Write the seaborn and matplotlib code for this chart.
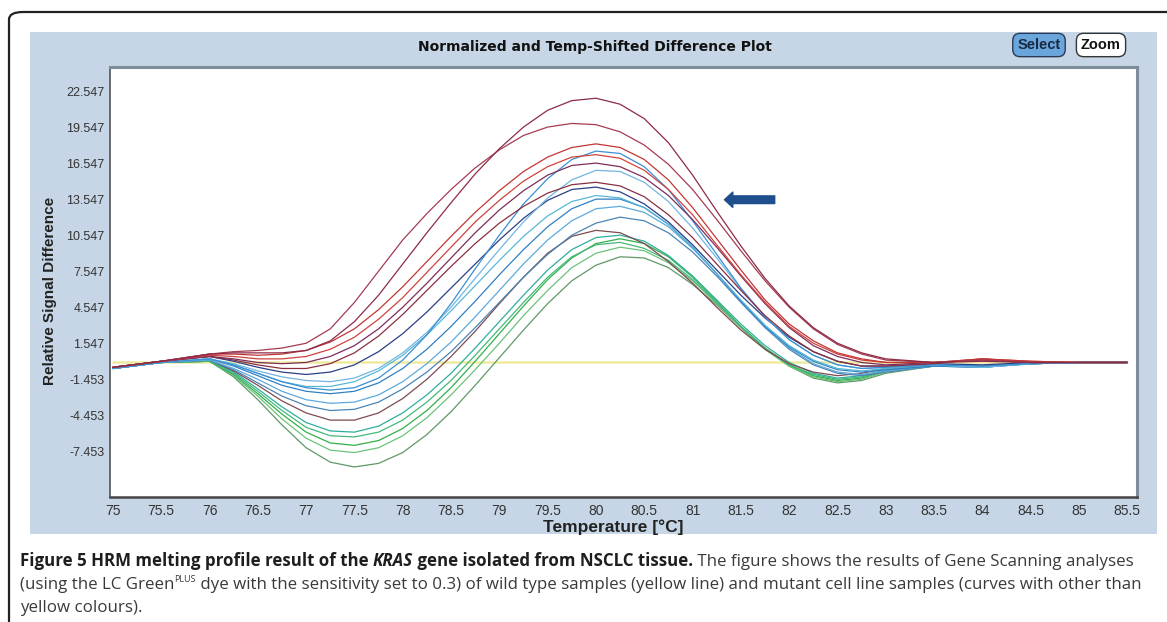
import numpy as np
import pandas as pd
import seaborn as sns
import matplotlib.pyplot as plt
from matplotlib.patches import Rectangle, FancyBboxPatch
from matplotlib.ticker import FixedLocator, AutoMinorLocator

sns.set_style('white')
plt.rcParams['font.family'] = ['Liberation Sans', 'DejaVu Sans']

# temperature grid (deg C)
TEMPS = [75, 75.5, 76, 76.25, 76.5, 76.75, 77, 77.25, 77.5, 77.75, 78, 78.25, 78.5, 78.75,
         79, 79.25, 79.5, 79.75, 80, 80.25, 80.5, 80.75, 81, 81.25, 81.5, 81.75, 82, 82.25,
         82.5, 82.75, 83, 83.5, 84, 84.5, 85, 85.5]

# wild type reference (yellow line)
wild_type = [0.0] * len(TEMPS)

# mutant curves
maroon_22 = [-0.4, 0.1, 0.7, 0.8, 0.8, 0.8, 1.0, 1.8, 3.4, 5.6, 8.2, 10.8, 13.3, 15.7,
             17.8, 19.6, 21.0, 21.8, 22.0, 21.5, 20.3, 18.3, 15.6, 12.6, 9.7, 7.0, 4.7, 2.9,
             1.6, 0.8, 0.3, 0.0, 0.1, 0.0, 0.0, 0.0]
maroon_20 = [-0.4, 0.1, 0.7, 0.9, 1.0, 1.2, 1.6, 2.8, 5.0, 7.6, 10.2, 12.4, 14.4, 16.2,
             17.7, 18.9, 19.6, 19.9, 19.8, 19.2, 18.1, 16.5, 14.4, 11.9, 9.3, 6.8, 4.6, 2.8,
             1.5, 0.7, 0.2, 0.0, 0.2, 0.0, 0.0, 0.0]
red_18 = [-0.4, 0.1, 0.7, 0.7, 0.6, 0.7, 1.0, 1.7, 2.8, 4.4, 6.3, 8.4, 10.5, 12.5,
          14.3, 15.9, 17.1, 17.9, 18.2, 17.9, 16.9, 15.2, 12.9, 10.3, 7.7, 5.2, 3.2, 1.8,
          0.8, 0.3, 0.0, 0.0, 0.3, 0.1, 0.0, 0.0]
red_17 = [-0.4, 0.1, 0.6, 0.5, 0.3, 0.3, 0.5, 1.1, 2.1, 3.6, 5.4, 7.5, 9.6, 11.7,
          13.5, 15.1, 16.3, 17.1, 17.3, 17.0, 16.0, 14.4, 12.3, 9.8, 7.3, 5.0, 3.0, 1.6,
          0.7, 0.2, 0.0, 0.0, 0.3, 0.1, 0.0, 0.0]
plum_16 = [-0.4, 0.1, 0.5, 0.3, 0.0, -0.1, 0.0, 0.5, 1.4, 2.8, 4.6, 6.6, 8.7, 10.8,
           12.7, 14.3, 15.6, 16.4, 16.6, 16.3, 15.4, 13.9, 11.9, 9.6, 7.2, 4.9, 2.9, 1.4,
           0.5, 0.0, -0.2, 0.0, 0.2, 0.0, 0.0, 0.0]
darkred_15 = [-0.4, 0.1, 0.5, 0.2, -0.2, -0.5, -0.5, -0.1, 0.8, 2.2, 4.0, 6.0, 8.0, 9.9,
              11.6, 13.0, 14.1, 14.8, 15.0, 14.7, 13.8, 12.3, 10.4, 8.2, 6.0, 3.9, 2.2, 0.9,
              0.1, -0.3, -0.3, -0.1, 0.3, 0.0, 0.0, 0.0]
blue_17 = [-0.5, 0.0, 0.3, -0.2, -0.9, -1.6, -2.1, -2.3, -2.1, -1.3, 0.2, 2.3, 4.9, 7.8,
           10.6, 13.2, 15.3, 16.9, 17.6, 17.4, 16.3, 14.4, 11.8, 9.0, 6.2, 3.8, 1.9, 0.6,
           -0.2, -0.5, -0.4, -0.2, -0.3, -0.1, 0.0, 0.0]
skyblue_16 = [-0.5, 0.0, 0.3, -0.1, -0.7, -1.2, -1.5, -1.6, -1.3, -0.5, 0.8, 2.5, 4.6, 7.0,
              9.4, 11.7, 13.7, 15.2, 16.0, 15.9, 15.0, 13.4, 11.2, 8.7, 6.1, 3.8, 1.9, 0.6,
              -0.2, -0.5, -0.4, -0.2, -0.4, -0.1, 0.0, 0.0]
navy_14 = [-0.4, 0.1, 0.5, 0.1, -0.4, -0.8, -1.0, -0.8, -0.2, 0.9, 2.4, 4.2, 6.2, 8.2,
           10.2, 12.0, 13.5, 14.4, 14.6, 14.2, 13.2, 11.7, 9.8, 7.7, 5.6, 3.7, 2.1, 0.9,
           0.1, -0.3, -0.3, -0.1, -0.2, 0.0, 0.0, 0.0]
cyan_14 = [-0.5, 0.0, 0.3, -0.2, -0.9, -1.6, -2.0, -2.0, -1.6, -0.7, 0.6, 2.3, 4.3, 6.4,
           8.5, 10.5, 12.2, 13.4, 13.9, 13.7, 12.9, 11.5, 9.6, 7.4, 5.2, 3.1, 1.4, 0.2,
           -0.5, -0.7, -0.5, -0.2, -0.4, -0.1, 0.0, 0.0]
blue_13 = [-0.5, 0.0, 0.3, -0.3, -1.1, -1.9, -2.4, -2.6, -2.4, -1.7, -0.5, 1.1, 3.0, 5.1,
           7.3, 9.4, 11.3, 12.8, 13.6, 13.6, 12.9, 11.5, 9.6, 7.4, 5.1, 3.0, 1.3, 0.1,
           -0.6, -0.8, -0.6, -0.3, -0.4, -0.1, 0.0, 0.0]
lightblue_13 = [-0.5, 0.0, 0.2, -0.5, -1.4, -2.4, -3.1, -3.4, -3.3, -2.7, -1.6, -0.1, 1.7, 3.8,
                6.0, 8.2, 10.2, 11.8, 12.8, 13.0, 12.5, 11.3, 9.5, 7.4, 5.1, 3.0, 1.2, -0.1,
                -0.8, -1.0, -0.7, -0.3, -0.4, -0.1, 0.0, 0.0]
steel_12 = [-0.5, 0.0, 0.2, -0.6, -1.7, -2.8, -3.6, -4.0, -3.9, -3.3, -2.2, -0.8, 0.9, 2.9,
            5.0, 7.1, 9.0, 10.6, 11.6, 12.1, 11.8, 10.8, 9.2, 7.2, 5.0, 2.9, 1.1, -0.2,
            -0.9, -1.1, -0.8, -0.3, -0.4, -0.1, 0.0, 0.0]
brown_11 = [-0.5, 0.0, 0.2, -0.7, -1.9, -3.2, -4.2, -4.8, -4.8, -4.2, -3.0, -1.4, 0.5, 2.6,
            4.9, 7.1, 9.1, 10.5, 11.0, 10.8, 9.9, 8.4, 6.6, 4.6, 2.7, 1.1, -0.1, -0.8,
            -1.1, -0.9, -0.5, -0.2, -0.3, -0.1, 0.0, 0.0]
teal_10 = [-0.5, 0.0, 0.2, -0.8, -2.2, -3.7, -5.0, -5.7, -5.8, -5.3, -4.2, -2.7, -0.9, 1.2,
           3.4, 5.6, 7.7, 9.4, 10.4, 10.6, 10.1, 8.9, 7.2, 5.2, 3.2, 1.4, 0.0, -0.9,
           -1.3, -1.1, -0.6, -0.2, -0.3, -0.1, 0.0, 0.0]
seagreen_10 = [-0.5, 0.0, 0.1, -0.9, -2.4, -4.0, -5.4, -6.1, -6.2, -5.8, -4.8, -3.3, -1.5, 0.6,
               2.8, 5.0, 7.1, 8.8, 9.8, 10.0, 9.5, 8.5, 6.9, 5.0, 3.0, 1.2, -0.2, -1.0,
               -1.4, -1.2, -0.7, -0.2, -0.3, -0.1, 0.0, 0.0]
green_10 = [-0.5, 0.0, 0.1, -1.0, -2.6, -4.3, -5.8, -6.7, -6.9, -6.5, -5.5, -4.0, -2.1, 0.1,
            2.4, 4.7, 6.9, 8.7, 9.9, 10.3, 9.9, 8.8, 7.1, 5.1, 3.0, 1.2, -0.2, -1.1,
            -1.5, -1.3, -0.7, -0.2, -0.3, -0.1, 0.0, 0.0]
lightgreen_9 = [-0.5, 0.0, 0.1, -1.1, -2.8, -4.7, -6.3, -7.3, -7.5, -7.1, -6.1, -4.6, -2.7, -0.6,
                1.6, 3.9, 6.0, 7.9, 9.1, 9.6, 9.3, 8.3, 6.8, 4.9, 2.9, 1.1, -0.3, -1.2,
                -1.6, -1.4, -0.8, -0.3, -0.3, -0.1, 0.0, 0.0]
greygreen_9 = [-0.5, 0.0, 0.1, -1.2, -3.1, -5.2, -7.1, -8.3, -8.7, -8.4, -7.5, -6.0, -4.1, -1.9,
               0.4, 2.7, 4.9, 6.8, 8.1, 8.8, 8.7, 7.9, 6.5, 4.8, 2.9, 1.1, -0.3, -1.3,
               -1.7, -1.5, -0.9, -0.3, -0.3, -0.1, 0.0, 0.0]

Y_TICKS = [22.547, 19.547, 16.547, 13.547, 10.547, 7.547, 4.547, 1.547, -1.453, -4.453, -7.453]
X_TICKS = [75, 75.5, 76, 76.5, 77, 77.5, 78, 78.5, 79, 79.5, 80, 80.5, 81, 81.5, 82, 82.5,
           83, 83.5, 84, 84.5, 85, 85.5]

series = {
    'wild type': wild_type,
    'greygreen_9': greygreen_9, 'lightgreen_9': lightgreen_9, 'green_10': green_10,
    'seagreen_10': seagreen_10, 'teal_10': teal_10, 'brown_11': brown_11, 'steel_12': steel_12,
    'lightblue_13': lightblue_13, 'blue_13': blue_13, 'cyan_14': cyan_14, 'navy_14': navy_14,
    'skyblue_16': skyblue_16, 'blue_17': blue_17, 'darkred_15': darkred_15, 'plum_16': plum_16,
    'red_17': red_17, 'red_18': red_18, 'maroon_20': maroon_20, 'maroon_22': maroon_22,
}
palette = {
    'wild type': '#eeeaa0',
    'greygreen_9': '#5f9868', 'lightgreen_9': '#6cc27a', 'green_10': '#32b04a',
    'seagreen_10': '#45b87a', 'teal_10': '#2fae9c', 'brown_11': '#7c4c52', 'steel_12': '#4d84b4',
    'lightblue_13': '#5caadb', 'blue_13': '#2f80c4', 'cyan_14': '#58b8d8', 'navy_14': '#2c3e86',
    'skyblue_16': '#71b6e2', 'blue_17': '#3a90d2', 'darkred_15': '#8a3040', 'plum_16': '#7d2d5c',
    'red_17': '#d0433c', 'red_18': '#c23636', 'maroon_20': '#a43c52', 'maroon_22': '#8d2b47',
}

df = pd.concat([pd.DataFrame({'Temperature': TEMPS, 'Signal': v, 'sample': k})
                for k, v in series.items()], ignore_index=True)

W, H = 1167, 622
fig = plt.figure(figsize=(W / 100, H / 100), dpi=100)
fig.patch.set_facecolor('white')

# software window frame and blue panel
fig.patches.append(FancyBboxPatch((9 / W, -0.2), 1.3, 1 - 12 / H + 0.2, boxstyle='round,pad=0,rounding_size=0.012',
                                  transform=fig.transFigure, fc='none', ec='#222222', lw=1.6, zorder=-20))
fig.patches.append(Rectangle((30 / W, 1 - 534 / H), 1127 / W, 502 / H, transform=fig.transFigure,
                             fc='#c6d6e6', ec='none', zorder=-10))

ax = fig.add_axes([110 / W, 1 - 497 / H, 1027 / W, 430 / H])
ax.set_facecolor('white')

sns.lineplot(data=df, x='Temperature', y='Signal', hue='sample', palette=palette,
             hue_order=list(series.keys()), estimator=None, sort=False, legend=False,
             linewidth=0.9, ax=ax)
ax.lines[0].set_linewidth(1.8)

ax.set_xlim(74.97, 85.6)
ax.set_ylim(-11.2, 24.6)
ax.xaxis.set_major_locator(FixedLocator(X_TICKS))
ax.set_xticklabels(['%g' % t for t in X_TICKS])
ax.yaxis.set_major_locator(FixedLocator(Y_TICKS))
ax.set_yticklabels(['%.3f' % t for t in Y_TICKS])
ax.yaxis.set_minor_locator(AutoMinorLocator(4))
ax.tick_params(axis='y', which='major', direction='out', length=3, width=0.8, labelsize=9, colors='#333333', pad=1)
ax.tick_params(axis='y', which='minor', direction='out', length=1.5, width=0.6, colors='#555555')
ax.tick_params(axis='x', which='major', direction='out', length=3, width=0.8, labelsize=10, colors='#333333', pad=2)

for side in ['top', 'right']:
    ax.spines[side].set_color('#7f8c99')
    ax.spines[side].set_linewidth(2.2)
ax.spines['left'].set_color('#555555')
ax.spines['left'].set_linewidth(1.2)
ax.spines['bottom'].set_color('#444444')
ax.spines['bottom'].set_linewidth(1.8)

ax.set_xlabel('Temperature [°C]', fontsize=12.5, fontweight='bold', color='#222222')
ax.xaxis.set_label_coords(0.49, -0.052)
ax.set_ylabel('Relative Signal Difference', fontsize=11, fontweight='bold', color='#222222')
ax.yaxis.set_label_coords(-0.052, 0.48)

# arrow marking the mutant curves
ax.annotate('', xy=(81.33, 13.55), xytext=(81.85, 13.55),
            arrowprops=dict(facecolor='#1f4e8c', edgecolor='#1f4e8c', width=5.5, headwidth=11, headlength=6, shrink=0))

# window title and buttons
fig.text(595 / W, 1 - 47 / H, 'Normalized and Temp-Shifted Difference Plot', ha='center', va='center',
         fontsize=10, fontweight='bold', color='#111111', family=['DejaVu Sans'])
fig.text(1039 / W, 1 - 45 / H, 'Select', ha='center', va='center', fontsize=10.5, fontweight='bold', color='#1a2a40',
         bbox=dict(boxstyle='round,pad=0.32,rounding_size=0.5', fc='#6aa6dc', ec='#2a3a55', lw=1))
fig.text(1101 / W, 1 - 45 / H, 'Zoom', ha='center', va='center', fontsize=10.5, fontweight='bold', color='#111111',
         bbox=dict(boxstyle='round,pad=0.32,rounding_size=0.5', fc='white', ec='#333333', lw=1))

# caption, written as consecutive text runs
renderer = fig.canvas.get_renderer()
CAP_FONT = ['Open Sans', 'DejaVu Sans']


def put_runs(x_px, y_px, runs):
    x = x_px
    for s, kw in runs:
        t = fig.text(x / W, 1 - y_px / H, s, va='baseline', family=CAP_FONT, **kw)
        x += t.get_window_extent(renderer).width
    return x


bold = dict(fontsize=12.2, fontweight='bold', color='#1e1e1e')
bolditalic = dict(fontsize=12.2, fontweight='bold', style='italic', color='#1e1e1e')
plain = dict(fontsize=12.2, color='#3a3a3a')
sup = dict(fontsize=6.5, color='#3a3a3a')

put_runs(20, 566, [('Figure 5 HRM melting profile result of the ', bold), ('KRAS', bolditalic),
                   (' gene isolated from NSCLC tissue.', bold),
                   (' The figure shows the results of Gene Scanning analyses', plain)])
x_end = put_runs(20, 589, [('(using the LC Green', plain)])
x_end = put_runs(x_end, 582, [('PLUS', sup)])
put_runs(x_end, 589, [(' dye with the sensitivity set to 0.3) of wild type samples (yellow line) and mutant cell line samples (curves with other than', plain)])
put_runs(20, 612, [('yellow colours).', plain)])

fig.savefig('out.png', dpi=100)
